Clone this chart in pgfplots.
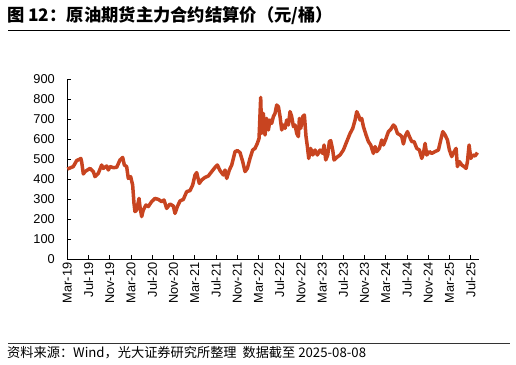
\documentclass[border=0pt]{standalone}
\usepackage{fontspec}
\setmainfont{Liberation Sans}
\newfontfamily\cjk{Noto Sans CJK SC}
\usepackage{pgfplots}
\pgfplotsset{compat=1.18}
\definecolor{oil}{RGB}{200,68,32}
\begin{document}
\begin{tikzpicture}
\path[use as bounding box] (0pt,0pt) rectangle (516pt,364pt);
\node[anchor=west,font=\cjk\bfseries\fontsize{17.3}{19}\selectfont,inner sep=0] at (7pt,348.5pt) {图 12：原油期货主力合约结算价（元/桶）};
\draw[line width=1pt] (8pt,333pt) -- (510pt,333pt);
\draw[line width=0.8pt,black!80] (8pt,21pt) -- (510pt,21pt);
\node[anchor=west,font=\cjk\fontsize{13.2}{15}\selectfont,inner sep=0] at (7pt,11.5pt) {资料来源：Wind，光大证券研究所整理\ \ 数据截至 2025-08-08};
\begin{axis}[
  at={(67.3pt,105pt)}, anchor=south west,
  scale only axis, width=411.4pt, height=180pt,
  xmin=0, xmax=77.5, ymin=0, ymax=900,
  axis lines=left,
  axis line style={-, line width=0.8pt, black},
  tick align=inside,
  major tick length=4pt,
  tick style={black, line width=0.8pt},
  xtick={0,4,...,76},
  xticklabels={Mar-19,Jul-19,Nov-19,Mar-20,Jul-20,Nov-20,Mar-21,Jul-21,Nov-21,Mar-22,Jul-22,Nov-22,Mar-23,Jul-23,Nov-23,Mar-24,Jul-24,Nov-24,Mar-25,Jul-25},
  ytick={0,100,...,900},
  x tick label style={rotate=90, anchor=east},
  y tick label style={xshift=-9pt},
  tick label style={font=\fontsize{12.8}{14}\selectfont},
  /pgf/number format/assume math mode=true,
  clip=false,
]
\addplot[oil, line width=3.5pt, line join=round] coordinates {
(0,450) (0.5,455) (1.13,462) (1.76,492) (2.39,500) (2.55,503) (2.70,487) (3.02,425) (3.33,437) (4.27,453) (4.90,437) (5.21,412) (5.84,428) (6.47,470) (6.78,453) (7.41,465) (7.73,445) (8.04,462) (8.67,457) (9.30,458) (9.92,495) (10.43,508) (10.74,470) (11.18,462) (11.49,403) (11.93,412) (12.31,370) (12.56,278) (12.75,237) (13.07,245) (13.51,303) (13.69,262) (14.01,212) (14.32,245) (14.82,270) (15.26,262) (15.89,287) (16.52,303) (17.15,298) (17.78,287) (18.22,295) (18.72,253) (19.35,275) (19.97,265) (20.29,228) (20.73,262) (21.23,290) (21.86,298) (22.49,337) (23.12,342) (23.62,370) (24.06,420) (24.37,432) (24.87,378) (25.31,395) (25.94,408) (26.57,415) (27.20,437) (27.83,458) (28.27,470) (28.77,442) (29.40,420) (29.71,445) (30.03,403) (30.53,445) (30.97,470) (31.60,537) (32.04,542) (32.54,532) (33.04,487) (33.48,437) (33.92,453) (34.42,503) (34.92,545) (35.36,553) (35.80,578) (36.12,603) (36.31,728) (36.43,808) (36.62,628) (36.93,728) (37.25,620) (37.56,703) (37.88,645) (38.19,695) (38.50,678) (38.82,712) (39.13,728) (39.45,770) (39.76,762) (40.08,712) (40.39,645) (40.70,670) (41.02,653) (41.33,695) (41.65,670) (41.96,737) (42.27,712) (42.59,662) (42.90,670) (43.22,628) (43.53,612) (43.72,703) (43.97,653) (44.35,712) (44.66,720) (44.97,612) (45.23,562) (45.48,503) (45.85,553) (46.23,520) (46.67,545) (47.11,520) (47.61,545) (48.12,528) (48.37,570) (48.68,495) (49.06,520) (49.37,587) (49.62,592) (50.00,545) (50.25,495) (50.75,508) (51.38,520) (52.01,545) (52.64,587) (53.27,628) (53.77,653) (54.21,695) (54.52,737) (54.84,720) (55.15,695) (55.46,703) (55.78,662) (56.28,620) (56.72,587) (57.16,570) (57.66,528) (57.98,562) (58.29,537) (58.79,553) (59.23,595) (59.55,570) (60.05,603) (60.49,637) (60.93,648) (61.43,670) (61.75,662) (62.19,628) (62.69,620) (63.00,612) (63.32,575) (63.63,612) (64.07,637) (64.45,612) (64.89,587) (65.33,587) (65.83,553) (66.33,545) (66.77,503) (67.09,528) (67.40,578) (67.71,520) (68.22,537) (68.66,528) (69.28,537) (69.91,545) (70.35,595) (70.73,637) (71.17,620) (71.61,595) (71.98,545) (72.42,512) (72.68,528) (73.24,553) (73.49,462) (73.87,487) (74.31,470) (74.75,462) (75.13,453) (75.38,487) (75.69,570) (76.01,503) (76.38,520) (76.82,515) (77.26,532)
};
\end{axis}
\end{tikzpicture}
\end{document}
